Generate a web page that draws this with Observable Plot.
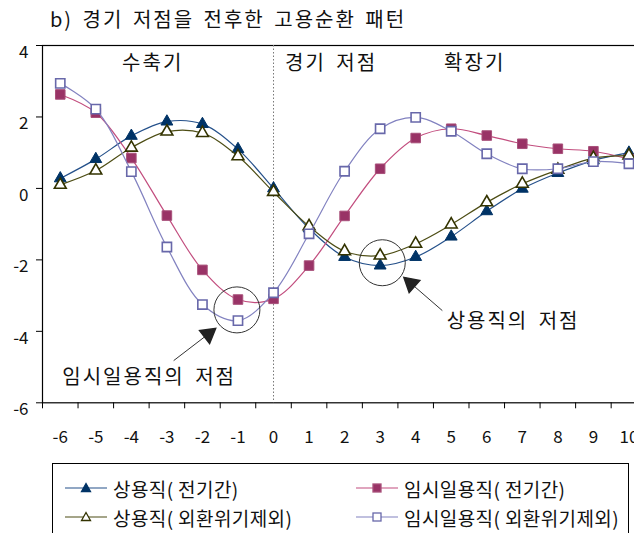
<!DOCTYPE html>
<html><head><meta charset="utf-8">
<script src="https://cdn.jsdelivr.net/npm/d3@7"></script>
<script src="https://cdn.jsdelivr.net/npm/@observablehq/plot@0.6"></script>
<style>
body{margin:0;background:#fff;overflow:hidden;font-family:"Noto Sans CJK KR",sans-serif;color:#111;}
#title{height:36px;line-height:38px;padding-left:50px;font-size:20px;letter-spacing:2px;word-spacing:3px;white-space:nowrap;}
#legend{position:absolute;left:52px;top:463px;width:577px;height:90px;border:1px solid #000;box-sizing:border-box;background:#fff;}
.item{position:absolute;height:24px;display:flex;align-items:center;font-size:19px;letter-spacing:0.4px;white-space:nowrap;}
.item svg{margin-right:6px;}
</style></head>
<body>
<div id="title">b) 경기 저점을 전후한 고용순환 패턴</div>
<div id="chart"></div>
<div id="legend"></div>
<script>
// Periods relative to the business-cycle trough
const periods = [-6,-5,-4,-3,-2,-1,0,1,2,3,4,5,6,7,8,9,10];
const yTicks = [-6,-4,-2,0,2,4];
// 상용직(전기간)
const regularAll = [0.28,0.82,1.47,1.87,1.80,1.10,0.00,-1.12,-1.92,-2.16,-1.92,-1.35,-0.64,-0.01,0.43,0.78,1.00];
// 임시일용직(전기간)
const tempAll = [2.63,2.12,0.85,-0.76,-2.28,-3.11,-3.09,-2.16,-0.77,0.55,1.41,1.67,1.48,1.25,1.11,1.04,0.82];
// 상용직(외환위기제외)
const regularEx = [0.10,0.50,1.14,1.59,1.55,0.90,-0.10,-1.06,-1.76,-1.88,-1.55,-1.01,-0.39,0.13,0.52,0.85,0.92];
// 임시일용직(외환위기제외)
const tempEx = [2.94,2.22,0.47,-1.64,-3.25,-3.70,-2.92,-1.27,0.48,1.67,1.99,1.60,0.97,0.55,0.55,0.75,0.69];
const seriesNames = ["상용직( 전기간)","임시일용직( 전기간)","상용직( 외환위기제외)","임시일용직( 외환위기제외)"];

// Annotations
const phaseLabels = ["수축기","경기 저점","확장기"];
const phaseX = [-3.40, 1.62, 5.66];
const phaseY = 3.50;
const troughNotes = [
  {label:"임시일용직의 저점", tx:-3.50, ty:-5.30, cx:-1.03, cy:-3.40, x1:-2.81, y1:-4.82, x2:-1.63, y2:-3.92},
  {label:"상용직의 저점", tx:6.74, ty:-3.72, cx:3.06, cy:-2.08, x1:4.75, y1:-3.42, x2:3.67, y2:-2.49}
];

const rows = vals => periods.map((p,i)=>({x:p, y:vals[i]}));
const bounds = periods.concat([periods[periods.length-1]+1]).map(p=>p-0.5);

const chart = Plot.plot({
  width:634, height:420,
  marginTop:9, marginBottom:53.7, marginLeft:42, marginRight:-12.2,
  style:{fontFamily:'"Noto Sans CJK KR",sans-serif', fontSize:"17px", color:"#111", background:"#fff"},
  x:{domain:[-6.5,10.5], axis:null},
  y:{domain:[-6,4], axis:null},
  marks:[
    Plot.frame({stroke:"#000", strokeWidth:1.2}),
    Plot.ruleX([0], {stroke:"#777", strokeDasharray:"1.5,2", strokeWidth:1}),
    Plot.axisY({ticks:yTicks, tickSize:6, tickFormat:()=>"", stroke:"#000"}),
    Plot.axisY({ticks:yTicks, tickSize:0, tickPadding:14, tickFormat:d=>String(d), fontSize:17, dy:7}),
    Plot.axisX({ticks:bounds, tickSize:6, tickFormat:()=>"" , stroke:"#000"}),
    Plot.axisX({ticks:periods, tickSize:0, tickPadding:28, tickFormat:d=>String(d), fontSize:17}),
    // series 1
    Plot.line(rows(regularAll), {x:"x", y:"y", stroke:"#24508a", strokeWidth:1.2, curve:"catmull-rom"}),
    Plot.dot(rows(regularAll), {x:"x", y:"y", symbol:"triangle", r:4.4, fill:"#003366", stroke:"#003366", strokeWidth:1}),
    // series 2
    Plot.line(rows(tempAll), {x:"x", y:"y", stroke:"#c24d7e", strokeWidth:1.2, curve:"catmull-rom"}),
    Plot.dot(rows(tempAll), {x:"x", y:"y", symbol:"square", r:5.4, fill:"#993366", stroke:"#a8507a", strokeWidth:1}),
    // series 3
    Plot.line(rows(regularEx), {x:"x", y:"y", stroke:"#4d4d14", strokeWidth:1.2, curve:"catmull-rom"}),
    Plot.dot(rows(regularEx), {x:"x", y:"y", symbol:"triangle", r:4.4, fill:"#fff", stroke:"#333300", strokeWidth:1.6}),
    // series 4
    Plot.line(rows(tempEx), {x:"x", y:"y", stroke:"#8282c0", strokeWidth:1.2, curve:"catmull-rom"}),
    Plot.dot(rows(tempEx), {x:"x", y:"y", symbol:"square", r:5.2, fill:"#fff", stroke:"#6868aa", strokeWidth:1.6}),
    // phase labels
    Plot.text(phaseLabels, {x:(d,i)=>phaseX[i], y:()=>phaseY, text:d=>d, fontSize:20, fill:"#111"}),
    // trough circles, arrows, labels
    Plot.dot(troughNotes, {x:"cx", y:"cy", r:23, stroke:"#333", strokeWidth:1, fill:"none"}),
    Plot.link(troughNotes, {x1:"x1", y1:"y1", x2:"x2", y2:"y2", stroke:"#333", strokeWidth:1}),
    Plot.dot([troughNotes[0]], {x:"x2", y:"y2", symbol:"triangle", r:6, fill:"#222", stroke:"#222", rotate:52, dx:-7.3, dy:5.7}),
    Plot.dot([troughNotes[1]], {x:"x2", y:"y2", symbol:"triangle", r:6, fill:"#222", stroke:"#222", rotate:-49, dx:7.0, dy:6.1}),
    Plot.text(troughNotes, {x:"tx", y:"ty", text:"label", fontSize:20, fill:"#111"})
  ]
});
document.getElementById("chart").appendChild(chart);
d3.select(chart).selectAll('g[aria-label="text"] text').attr("letter-spacing","2px").attr("word-spacing","4px");

// Legend
const legendStyles = [
  {line:"#24508a", shape:"tri", fill:"#003366", stroke:"#003366"},
  {line:"#c24d7e", shape:"sq", fill:"#993366", stroke:"#a8507a"},
  {line:"#4d4d14", shape:"tri", fill:"#fff", stroke:"#333300"},
  {line:"#8282c0", shape:"sq", fill:"#fff", stroke:"#6868aa"}
];
const legendPos = [[12,12],[303,12],[12,41],[303,41]];
const legend = document.getElementById("legend");
seriesNames.forEach((name,i)=>{
  const s = legendStyles[i];
  const marker = s.shape==="tri"
    ? `<path d="M21,3.5 L25.5,11.5 L16.5,11.5 Z" fill="${s.fill}" stroke="${s.stroke}" stroke-width="1.3"/>`
    : `<rect x="17" y="4" width="8" height="8" fill="${s.fill}" stroke="${s.stroke}" stroke-width="1.3"/>`;
  const div = document.createElement("div");
  div.className = "item";
  div.style.left = legendPos[i][0]+"px";
  div.style.top = legendPos[i][1]+"px";
  div.innerHTML = `<svg width="42" height="16"><line x1="0" y1="8" x2="42" y2="8" stroke="${s.line}" stroke-width="1.2"/>${marker}</svg><span>${name}</span>`;
  legend.appendChild(div);
});
</script>
</body></html>
